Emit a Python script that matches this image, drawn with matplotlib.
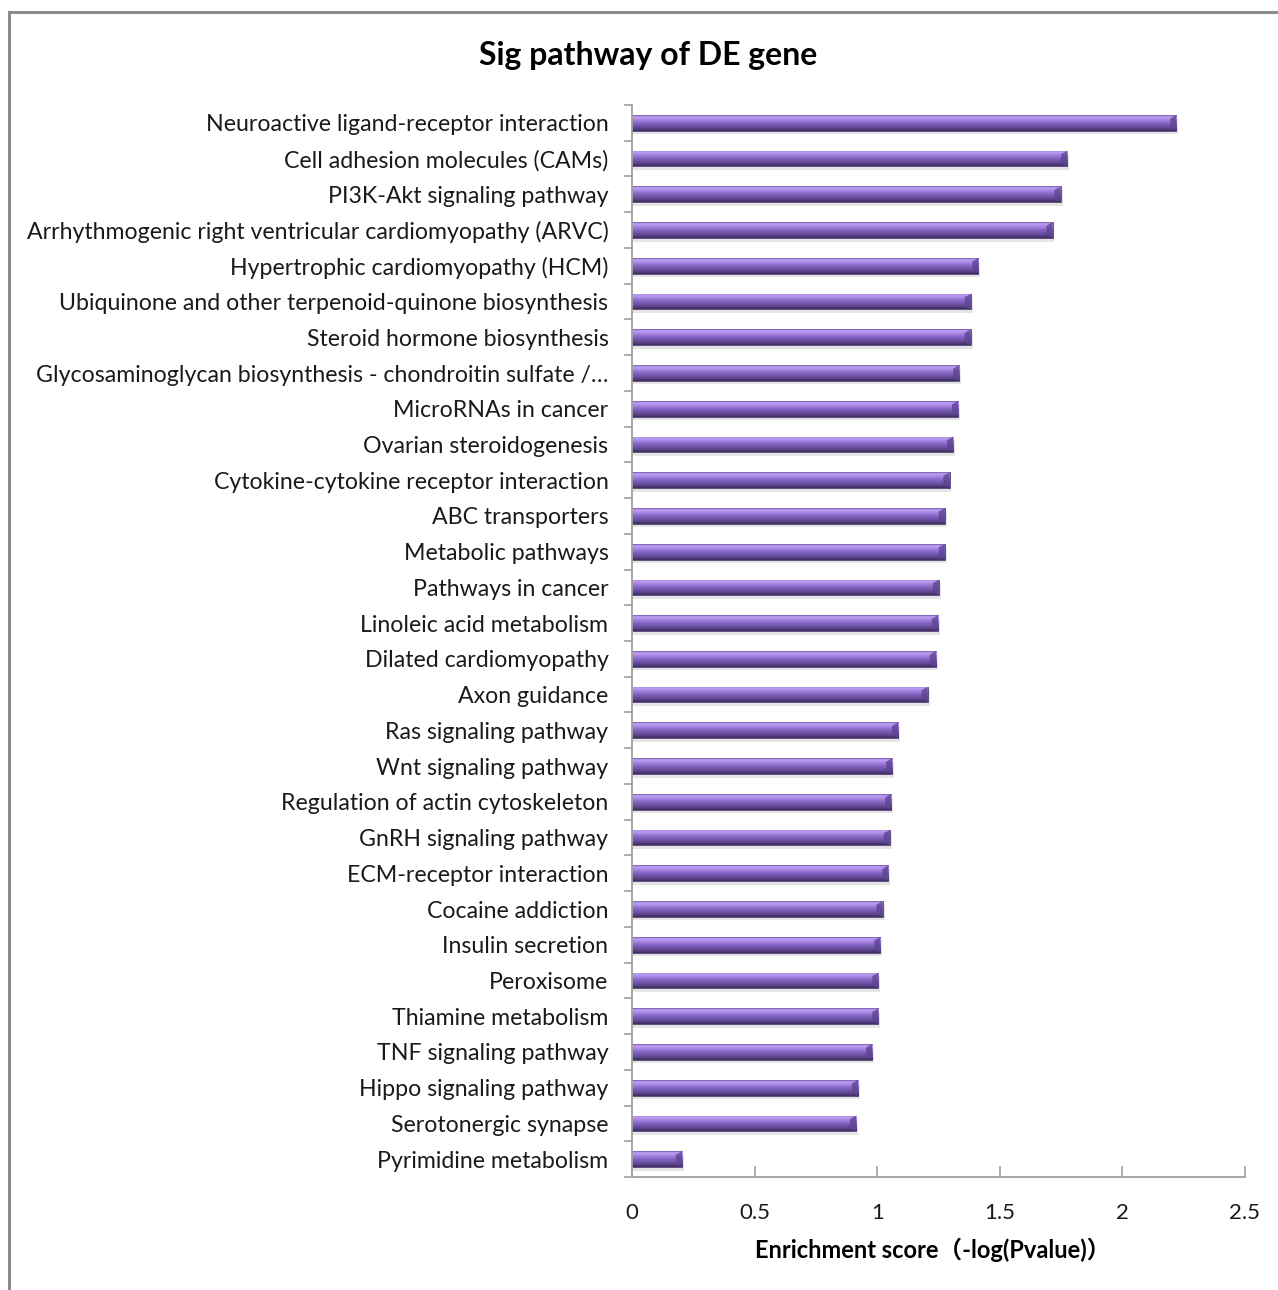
import numpy as np
import matplotlib
matplotlib.use('Agg')
import matplotlib.pyplot as plt
from matplotlib.lines import Line2D
from matplotlib.colors import LinearSegmentedColormap

# ---------------------------------- data ----------------------------------
pathways = [
    'Neuroactive ligand-receptor interaction',
    'Cell adhesion molecules (CAMs)',
    'PI3K-Akt signaling pathway',
    'Arrhythmogenic right ventricular cardiomyopathy (ARVC)',
    'Hypertrophic cardiomyopathy (HCM)',
    'Ubiquinone and other terpenoid-quinone biosynthesis',
    'Steroid hormone biosynthesis',
    'Glycosaminoglycan biosynthesis - chondroitin sulfate /…',
    'MicroRNAs in cancer',
    'Ovarian steroidogenesis',
    'Cytokine-cytokine receptor interaction',
    'ABC transporters',
    'Metabolic pathways',
    'Pathways in cancer',
    'Linoleic acid metabolism',
    'Dilated cardiomyopathy',
    'Axon guidance',
    'Ras signaling pathway',
    'Wnt signaling pathway',
    'Regulation of actin cytoskeleton',
    'GnRH signaling pathway',
    'ECM-receptor interaction',
    'Cocaine addiction',
    'Insulin secretion',
    'Peroxisome',
    'Thiamine metabolism',
    'TNF signaling pathway',
    'Hippo signaling pathway',
    'Serotonergic synapse',
    'Pyrimidine metabolism',
]
scores = [2.22, 1.775, 1.748, 1.715, 1.413, 1.382, 1.381, 1.335, 1.330, 1.310,
          1.295, 1.276, 1.276, 1.252, 1.248, 1.240, 1.206, 1.085, 1.061, 1.057,
          1.052, 1.046, 1.022, 1.013, 1.005, 1.005, 0.979, 0.922, 0.914, 0.204]

xticks = [0, 0.5, 1, 1.5, 2, 2.5]
xticklabels = ['0', '0.5', '1', '1.5', '2', '2.5']

# ---------------------------------- plot ----------------------------------
W, H = 1278, 1290
fig = plt.figure(figsize=(W / 100, H / 100), dpi=100)
fig.patch.set_facecolor('white')

# outer frame (top + left edges visible)
fig.add_artist(Line2D([9 / W, 1.0], [1 - 12 / H, 1 - 12 / H], color='#8c8c8c', lw=2.2))
fig.add_artist(Line2D([9 / W, 9 / W], [0, 1 - 12 / H], color='#8c8c8c', lw=2.2))

ax = fig.add_axes([632 / W, 1 - 1177 / H, (1245 - 632) / W, (1177 - 105) / H])

n = len(pathways)
ypos = np.arange(n)
bh = 0.44

# purple bevel gradient, top -> bottom of the bar
purple = LinearSegmentedColormap.from_list('bevel', [
    (0.00, '#7058a8'),
    (0.10, '#c2a2f6'),
    (0.28, '#a886e4'),
    (0.50, '#8464c2'),
    (0.78, '#634a96'),
    (1.00, '#3e2d60'),
])
grad = np.linspace(0, 1, 64).reshape(-1, 1)

for y, v in zip(ypos, scores):
    # soft shadow under the bar
    ax.barh(y + 0.10, v + 0.008, height=bh, left=0, color='#808080', alpha=0.2,
            zorder=1, linewidth=0)
    bar = ax.barh(y, v, height=bh, left=0, color='none', zorder=2,
                  edgecolor='#4a3770', linewidth=0.6)[0]
    im = ax.imshow(grad, extent=[0, v, y + bh / 2, y - bh / 2], aspect='auto',
                   cmap=purple, zorder=2, interpolation='bilinear')
    im.set_clip_path(bar)
    # bevelled end cap
    ax.fill([v - 0.025, v, v, v - 0.025],
            [y - bh / 2 + 0.10, y - bh / 2, y + bh / 2, y + bh / 2 - 0.08],
            color='#5c4590', alpha=0.8, zorder=3, linewidth=0)

ax.set_xlim(0, 2.5)
ax.set_ylim(n - 0.5, -0.5)

# axes styling
for s in ['top', 'right']:
    ax.spines[s].set_visible(False)
for s in ['left', 'bottom']:
    ax.spines[s].set_color('#a0a0a0')
    ax.spines[s].set_linewidth(1.3)

ax.set_xticks(xticks)
ax.set_xticklabels(xticklabels, fontsize=16, family='Lato', color='#1a1a1a')
ax.tick_params(axis='x', direction='in', length=8, width=1.2, color='#a0a0a0', pad=19)

ax.set_yticks(ypos)
ax.set_yticklabels(pathways, fontsize=16.7, family='Lato', color='#1a1a1a')
ax.tick_params(axis='y', which='major', length=0, pad=17)
ax.set_yticks(np.arange(n + 1) - 0.5, minor=True)
ax.tick_params(axis='y', which='minor', direction='out', length=6, width=1.2, color='#a0a0a0')

fig.text(648 / W, 1 - 55 / H, 'Sig pathway of DE gene', ha='center', va='center',
         fontsize=23, fontweight='bold', family='Lato')
fig.text(933 / W, 1 - 1250 / H, 'Enrichment score（-log(Pvalue)）', ha='center', va='center',
         fontsize=17, fontweight='bold', family=['Lato', 'Noto Sans CJK SC'])

fig.savefig('out.png', dpi=100)
